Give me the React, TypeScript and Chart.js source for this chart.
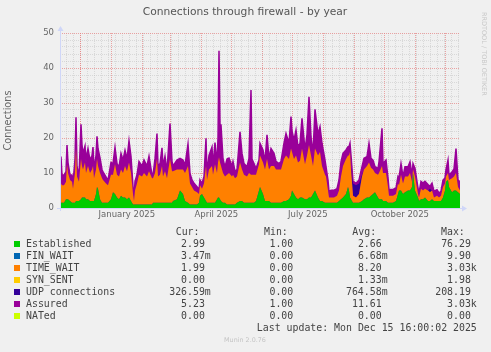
import { useEffect, useRef } from 'react';
import { Chart, registerables } from 'chart.js';

Chart.register(...registerables);

// day offsets from graph start (Nov 10 2024 16:00, 400-day window)
const days = [0, 1, 2, 4, 6, 7, 8, 10, 12, 13, 15, 16, 17, 19, 21, 22, 23, 25, 26, 27, 28, 30, 32, 33, 34, 36, 37, 38, 40, 42, 43, 46, 48, 51, 53, 55, 57, 59, 61, 63, 65, 67, 69, 71, 73, 74, 75, 77, 79, 82, 84, 87, 89, 92, 93, 95, 97, 98, 100, 102, 103, 105, 107, 110, 112, 113, 117, 120, 123, 125, 128, 130, 132, 134, 137, 139, 140, 142, 144, 146, 147, 149, 152, 153, 155, 157, 158, 159, 160, 161, 163, 165, 167, 169, 172, 173, 175, 177, 180, 182, 184, 187, 189, 191, 192, 194, 196, 199, 200, 203, 205, 207, 209, 211, 214, 216, 219, 221, 224, 226, 229, 231, 232, 234, 236, 238, 240, 242, 245, 247, 249, 251, 253, 255, 258, 260, 262, 265, 266, 268, 269, 271, 274, 277, 279, 281, 283, 286, 288, 289, 290, 291, 293, 296, 299, 302, 304, 307, 309, 311, 313, 315, 318, 319, 322, 323, 326, 328, 329, 333, 336, 338, 339, 341, 343, 345, 348, 350, 352, 353, 355, 358, 359, 361, 363, 365, 368, 370, 372, 374, 377, 379, 381, 383, 385, 386, 388, 389, 392, 394, 396, 398, 400];

const established = [1.5, 1.5, 1.5, 1.5, 2.5, 2.5, 2.5, 2, 1.5, 1.5, 1.5, 2, 2, 2, 2.5, 3, 3, 3, 2.5, 2.5, 2.5, 2, 2, 2, 2, 4, 6, 5.5, 2.5, 1.5, 1.5, 1.5, 1.5, 2.5, 4.5, 4, 3, 2.5, 3.5, 3, 3, 2.5, 3, 2, 1, 1, 1, 1, 1, 1, 1, 1, 1, 1, 1.5, 1.5, 1.5, 1.5, 1.5, 1.5, 1.5, 1.5, 1.5, 1.5, 1.5, 2, 2.5, 5, 4, 2, 1.5, 1, 1, 1, 1, 1.5, 3.5, 4, 3, 2, 1.5, 1.5, 1.5, 1.5, 1.5, 2.5, 3, 3, 2.5, 2, 1.5, 1.5, 1, 1, 1, 1, 1, 1.5, 2, 2, 1.5, 1.5, 1.5, 1.5, 1.5, 1.5, 2, 5, 6, 4, 2, 2, 2, 1.5, 1.5, 1.5, 1.5, 1.5, 2, 2, 2.5, 3.5, 5, 4, 3, 2.5, 3, 3, 2.5, 2.5, 3, 3, 4, 5, 3, 2, 2, 1.5, 1.5, 1.5, 1.5, 1.5, 1.5, 1.5, 2, 2.5, 3, 4, 6, 5, 3, 2.5, 1.5, 1.5, 1.5, 2, 2.5, 3, 3, 3.5, 4, 4.5, 3, 2.5, 2.5, 2, 2, 1.5, 1.5, 1.5, 2, 4, 5, 5, 4, 4.5, 5, 5, 6, 10, 5, 3, 2, 2.5, 2.5, 3, 2, 2, 2.5, 2, 2, 2, 2, 3, 5, 7.5, 8, 6, 4.5, 5, 5, 4.5, 4];

const timeWait = [5.5, 5.5, 5, 5, 5, 9.9, 7.5, 6, 6, 4, 8.5, 15, 7, 5.5, 11.5, 9, 8, 10, 7.5, 8.5, 9.5, 8, 9, 10, 6.5, 7, 8, 6.5, 7.5, 7, 6.5, 5.5, 5, 7, 5, 8.5, 6.5, 6.5, 7.5, 7, 9, 8, 10, 8, 3, 1, 4, 6, 8.5, 8, 9, 8, 9.5, 7.5, 7, 8.5, 12.5, 7.5, 8, 10.5, 7.5, 9, 7, 12.5, 9, 8.5, 8.5, 6, 7, 8, 10.5, 6, 5, 4, 3.5, 2.5, 3, 1.5, 4, 10, 6.5, 9.5, 10.5, 8, 11, 7.5, 10, 11.5, 10.5, 10, 8.5, 7.5, 8.5, 9, 8, 8.5, 7.5, 7.5, 11, 9, 8, 7.5, 8.5, 8, 8, 8, 7.5, 7.5, 9, 9, 9, 12, 9, 10.5, 10.5, 9.5, 9.5, 9.5, 12, 13, 11.5, 13.5, 11, 10, 12, 10.5, 10.5, 14, 10, 12.5, 15, 12, 8, 12, 12, 14, 10, 8, 7.5, 3.5, 1.5, 1.5, 1.5, 2, 3, 6.5, 9, 10, 9, 10, 13, 8.5, 2, 1.5, 2.5, 7, 8.5, 9, 10, 8, 7, 5.5, 6.5, 7.5, 9.5, 8, 8, 4.5, 2, 2, 2, 3, 1.5, 4.5, 3, 4.5, 4, 5, 1.5, 1, 4, 1, 1, 3, 2.5, 2.5, 3, 2.5, 2.5, 1, 1.5, 1, 1.5, 3, 2, 1.5, 2, 2, 4, 4, 5, 1.5, 1];

const udp = [0, 0, 0, 0, 0, 0, 0, 0, 0, 0, 0, 0, 0, 0, 0, 0, 0, 0, 0, 0, 0, 0, 0, 0, 0, 0, 0, 0, 0, 0, 0, 0, 0, 0, 0, 0, 0, 0, 0, 0, 0, 0, 0, 0, 0, 0, 0, 0, 0, 0, 0, 0, 0, 0, 0, 0, 0, 0, 0, 0, 0, 0, 0, 0, 0, 0, 0, 0, 0, 0, 0, 0, 0, 0, 0, 0, 0, 0, 0, 0, 0, 0, 0, 0, 0, 0, 0, 0, 0, 0, 0, 0, 0, 0, 0, 0, 0, 0, 0, 0, 0, 0, 0, 0, 0, 0, 0, 0, 0, 0, 0, 0, 0, 0, 0, 0, 0, 0, 0, 0, 0, 0, 0, 0, 0, 0, 0, 0, 0, 0, 0, 0, 0, 0, 0, 0, 0, 0, 0, 0, 0, 0, 0, 0, 0, 0, 0, 0, 0, 0, 0, 0.5, 3.5, 3.5, 3, 0.5, 0, 0, 0, 0, 0, 0, 0, 0, 0, 0, 0, 0, 0, 0, 0, 0, 0, 0, 0, 0, 0, 0, 0, 0, 0, 0, 0, 0, 0, 0, 0, 1, 0, 0, 0, 0, 0, 0, 0, 0, 0, 0, 0, 0, 0, 0, 0, 0, 0];

const assured = [14.5, 14.5, 9.4, 9.4, 10.4, 18, 13, 9.4, 9.4, 7, 14, 25.9, 12, 9, 23.9, 18, 15.6, 17.7, 13.1, 15.6, 17, 13.7, 15, 17.4, 11.2, 15, 20.5, 17, 14.3, 11, 10.3, 8.9, 7.9, 13, 12.7, 17.3, 12.7, 11.7, 15.6, 13.7, 16.5, 14, 19.2, 14.7, 6.1, 2.8, 7.6, 9.5, 13.3, 12, 13.7, 12, 14.8, 9.5, 9.4, 14.1, 21.3, 12, 12.7, 17.2, 12, 14.8, 10.4, 24.1, 13.3, 12, 13.7, 14.2, 13.7, 12.2, 18.3, 9.9, 8, 7.1, 6.1, 5.2, 8, 7, 9, 19.9, 9.9, 15, 17.4, 12, 18.7, 12.7, 20, 44.9, 23.7, 23.7, 14, 11.7, 14, 14.3, 12, 13.3, 10.5, 11, 21.8, 15.6, 12.7, 11.8, 14.2, 33.7, 14, 12.7, 11.3, 13.7, 18.5, 16.6, 13.3, 20.9, 14.2, 17, 15.6, 13.3, 12.7, 13.3, 18.5, 21.3, 18.5, 26.1, 22, 19.4, 22.3, 17.5, 18.5, 25.6, 16.6, 21, 31.8, 20.3, 15.6, 28.2, 21, 23.2, 18.5, 13.7, 11.8, 8, 4.7, 5.1, 5.1, 5.5, 8, 13.2, 15.6, 16.6, 17.5, 17.5, 18.5, 15, 7.6, 7.1, 8, 11.8, 14.2, 14.7, 18.5, 14.2, 13.7, 11.8, 11.3, 13.2, 22.8, 12.7, 13.7, 8.6, 5.3, 5.3, 5.7, 9, 8.6, 12.7, 9, 11.8, 11.8, 13.2, 9.4, 12.7, 11.3, 5.7, 4.3, 7.6, 7.1, 7.6, 6.7, 6.2, 7.1, 4.8, 5.2, 4.3, 4.8, 8, 8.6, 11, 13.7, 9.4, 10.3, 11.2, 17, 8, 7.5];

const xLabelText = ['January 2025', 'April 2025', 'July 2025', 'October 2025'];
const xLabelMonths: [number, number][] = [[2025, 0], [2025, 3], [2025, 6], [2025, 9]];

const legendNames = ['Established', 'FIN_WAIT', 'TIME_WAIT', 'SYN_SENT', 'UDP connections', 'Assured', 'NATed'];
const legendColors = ['#00CC00', '#0066B3', '#FF8000', '#FFCC00', '#330099', '#990099', '#CCFF00'];
const curValues = ['2.99', '3.47m', '1.99', '0.00', '326.59m', '5.23', '0.00'];
const minValues = ['1.00', '0.00', '0.00', '0.00', '0.00', '1.00', '0.00'];
const avgValues = ['2.66', '6.68m', '8.20', '1.33m', '764.58m', '11.61', '0.00'];
const maxValues = ['76.29', '9.90', '3.03k', '1.98', '208.19', '3.03k', '0.00'];

const START = Date.UTC(2024, 10, 10, 16);
const dayOf = (y: number, m: number, d: number) => (Date.UTC(y, m, d) - START) / 86400000;

const monthDays: number[] = [];
for (let i = 0; i < 13; i++) monthDays.push(dayOf(2024, 11 + i, 1));
const weekDays: number[] = [];
for (let d = dayOf(2024, 10, 17); d < 400; d += 7) weekDays.push(d);
const gridDays = [...monthDays, ...weekDays].sort((a, b) => a - b);
const labelDays = xLabelMonths.map(([y, m]) => (dayOf(y, m, 1) + dayOf(y, m + 1, 1)) / 2);

const GRID = 'rgba(192,192,192,0.5)';
const MGRID = 'rgba(230,128,128,0.7)';
const AXIS = '#CFD6F8';

const axisPlugin = {
  id: 'rrdAxes',
  afterDatasetsDraw(chart: any) {
    const { ctx, chartArea: a } = chart;
    ctx.save();
    ctx.strokeStyle = AXIS;
    ctx.fillStyle = AXIS;
    ctx.lineWidth = 1;
    const lx = a.left + 0.5;
    const by = a.bottom + 0.5;
    ctx.beginPath();
    ctx.moveTo(lx, a.bottom + 3);
    ctx.lineTo(lx, a.top - 3);
    ctx.moveTo(a.left - 3, by);
    ctx.lineTo(a.right + 3, by);
    ctx.stroke();
    ctx.beginPath();
    ctx.moveTo(lx, a.top - 7);
    ctx.lineTo(lx - 3, a.top - 2);
    ctx.lineTo(lx + 3, a.top - 2);
    ctx.closePath();
    ctx.fill();
    ctx.beginPath();
    ctx.moveTo(a.right + 7, by);
    ctx.lineTo(a.right + 2, by - 3);
    ctx.lineTo(a.right + 2, by + 3);
    ctx.closePath();
    ctx.fill();
    ctx.restore();
  },
};

const axisFont = { family: '"DejaVu Sans", sans-serif', size: 8.5 };

export default function App() {
  const ref = useRef<HTMLCanvasElement>(null);

  useEffect(() => {
    const canvas = ref.current;
    if (!canvas) return;
    const pts = (vals: number[]) => days.map((d, i) => ({ x: d, y: vals[i] }));
    const chart = new Chart(canvas, {
      type: 'line',
      data: {
        datasets: [
          { label: 'Established', data: pts(established), backgroundColor: '#00CC00', borderColor: '#00CC00', borderWidth: 0, fill: 'origin', stack: 'conn', order: 0 },
          { label: 'TIME_WAIT', data: pts(timeWait), backgroundColor: '#FF8000', borderColor: '#FF8000', borderWidth: 0, fill: '-1', stack: 'conn', order: 0 },
          { label: 'UDP connections', data: pts(udp), backgroundColor: '#330099', borderColor: '#330099', borderWidth: 0, fill: '-1', stack: 'conn', order: 0 },
          { label: 'Assured', data: pts(assured), backgroundColor: '#990099', borderColor: '#990099', borderWidth: 1.5, fill: 'origin', stack: 'assured', order: 1 },
        ] as any,
      },
      options: {
        responsive: false,
        animation: false,
        devicePixelRatio: 1,
        elements: { point: { radius: 0 }, line: { tension: 0 } },
        layout: { padding: { left: 0, right: 31, top: 33, bottom: 124 } },
        plugins: { legend: { display: false }, tooltip: { enabled: false }, title: { display: false } },
        scales: {
          x: {
            type: 'linear',
            min: 0,
            max: 400,
            position: 'bottom',
            afterBuildTicks: (s: any) => { s.ticks = gridDays.map((v) => ({ value: v })); },
            ticks: { display: false },
            grid: {
              color: (c: any) => (c.tick && monthDays.includes(c.tick.value) ? MGRID : GRID),
              drawTicks: false,
            },
            border: { display: false, dash: [1, 1] },
            afterFit: (s: any) => { s.height = 0; },
          },
          xl: {
            type: 'linear',
            min: 0,
            max: 400,
            position: 'bottom',
            afterBuildTicks: (s: any) => { s.ticks = labelDays.map((v) => ({ value: v })); },
            ticks: {
              autoSkip: false,
              maxRotation: 0,
              padding: 2,
              color: '#666666',
              font: axisFont,
              callback: (_v: any, i: number) => xLabelText[i],
            },
            grid: { display: false, drawTicks: false },
            border: { display: false },
            afterFit: (s: any) => { s.height = 20; },
          },
          y: {
            min: 0,
            max: 50,
            stacked: true,
            ticks: {
              stepSize: 2,
              autoSkip: false,
              padding: 6,
              color: '#666666',
              font: axisFont,
              callback: (v: any) => (Number(v) % 10 === 0 ? String(v) : ''),
            },
            grid: {
              color: (c: any) => (c.tick && c.tick.value % 10 === 0 ? MGRID : GRID),
              drawTicks: false,
            },
            border: { display: false, dash: [1, 1] },
            title: {
              display: true,
              text: 'Connections',
              color: '#666666',
              font: { family: '"DejaVu Sans", sans-serif', size: 9.7 },
              padding: { top: 3, bottom: 0 },
            },
            afterFit: (s: any) => { s.width = 60; },
          },
        },
      } as any,
      plugins: [axisPlugin],
    });
    return () => chart.destroy();
  }, []);

  const mono: any = {
    position: 'absolute',
    fontFamily: '"DejaVu Sans Mono", monospace',
    fontSize: '9.9px',
    lineHeight: '12px',
    color: '#444444',
    whiteSpace: 'pre',
  };
  const pad = (v: string) => (/[a-z]$/i.test(v) ? v : v + ' ');
  const rowTop = (i: number) => 244.3 + 12 * i - 6;
  const cols: [string, string[], number, number][] = [
    ['Cur:', curValues, 175.7, 210.8],
    ['Min:', minValues, 264, 299.2],
    ['Avg:', avgValues, 352.3, 387.6],
    ['Max:', maxValues, 441, 476.8],
  ];

  return (
    <div style={{ position: 'fixed', left: 0, top: 0, width: 491, height: 352, background: '#F0F0F0', overflow: 'hidden' }}>
      <canvas ref={ref} width={491} height={352} style={{ position: 'absolute', left: 0, top: 0, width: 491, height: 352 }} />
      <div style={{ position: 'absolute', left: 0, width: 490, top: 5, textAlign: 'center', fontFamily: '"DejaVu Sans", sans-serif', fontSize: '10.7px', lineHeight: '14px', color: '#555555' }}>
        Connections through firewall - by year
      </div>
      <div style={{ position: 'absolute', left: 480, top: 12, writingMode: 'vertical-rl', fontFamily: '"DejaVu Sans", sans-serif', fontSize: '6.5px', lineHeight: '8px', color: '#C8C8C8', whiteSpace: 'nowrap' }}>
        RRDTOOL / TOBI OETIKER
      </div>
      {cols.map(([h, , left]) => (
        <div key={h} style={{ ...mono, left, top: 226.3 }}>{h}</div>
      ))}
      {legendNames.map((name, i) => (
        <div key={name}>
          <div style={{ position: 'absolute', left: 14, top: rowTop(i) + 3, width: 6, height: 6, background: legendColors[i] }} />
          <div style={{ ...mono, left: 26, top: rowTop(i) }}>{name}</div>
          {cols.map(([h, vals, , right]) => (
            <div key={h} style={{ ...mono, right: 491 - right, top: rowTop(i) }}>{pad(vals[i])}</div>
          ))}
        </div>
      ))}
      <div style={{ ...mono, right: 491 - 476.8, top: 322.3 }}>Last update: Mon Dec 15 16:00:02 2025</div>
      <div style={{ position: 'absolute', left: 0, width: 490, top: 336, textAlign: 'center', fontFamily: '"DejaVu Sans", sans-serif', fontSize: '6.4px', lineHeight: '8px', color: '#C4C4C4' }}>
        Munin 2.0.76
      </div>
    </div>
  );
}
